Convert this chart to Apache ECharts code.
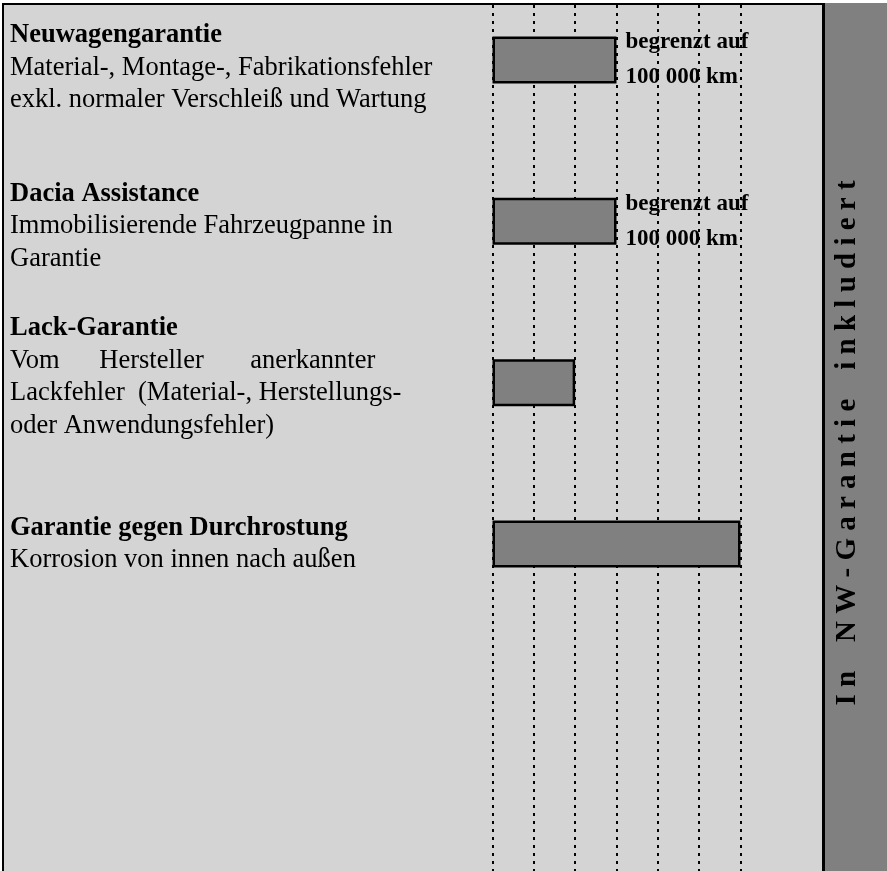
<!DOCTYPE html>
<html>
<head>
<meta charset="utf-8">
<script src="https://cdn.jsdelivr.net/npm/echarts@6/dist/echarts.min.js"></script>
<style>
html,body{margin:0;padding:0;background:#ffffff;}
#chart{width:887px;height:871px;}
</style>
</head>
<body>
<div id="chart"></div>
<script>
// ---- data ----
const categories = ["Neuwagengarantie", "Dacia Assistance", "Lack-Garantie", "Garantie gegen Durchrostung"];
const descriptions = [
  ["Material-, Montage-, Fabrikationsfehler", "exkl. normaler Verschleiß und Wartung"],
  ["Immobilisierende Fahrzeugpanne in", "Garantie"],
  ["Vom      Hersteller       anerkannter", "Lackfehler  (Material-, Herstellungs-", "oder Anwendungsfehler)"],
  ["Korrosion von innen nach außen"]
];
const years = [3, 3, 2, 6];
const limits = ["begrenzt auf\n100 000 km", "begrenzt auf\n100 000 km", "", ""];
const yearTicks = [0, 1, 2, 3, 4, 5, 6];
const sideLabel = "In NW-Garantie inkludiert";

// ---- layout (not data) ----
const SERIF = "'Liberation Serif', 'Times New Roman', serif";
const blockTitleCenters = [35.5, 194, 328.5, 528];
const lineGap = 32.5;

const graphics = [];
// white margins + black frame
graphics.push({type:'rect', silent:true, shape:{x:0,y:0,width:887,height:3}, style:{fill:'#ffffff'}});
graphics.push({type:'rect', silent:true, shape:{x:0,y:0,width:2,height:871}, style:{fill:'#ffffff'}});
graphics.push({type:'rect', silent:true, shape:{x:2,y:3,width:822,height:2}, style:{fill:'#000000'}});
graphics.push({type:'rect', silent:true, shape:{x:2,y:3,width:2,height:868}, style:{fill:'#000000'}});
// right band
graphics.push({type:'rect', silent:true, shape:{x:823,y:3,width:64,height:868}, style:{fill:'#808080'}});
graphics.push({type:'rect', silent:true, shape:{x:822,y:3,width:3,height:868}, style:{fill:'#000000'}});

// left text blocks
categories.forEach(function (cat, i) {
  const lines = [{text: cat, bold: true}].concat(descriptions[i].map(function (d) { return {text: d, bold: false}; }));
  lines.forEach(function (ln, k) {
    graphics.push({
      type: 'text', silent: true,
      x: 10, y: blockTitleCenters[i] + k * lineGap,
      style: {
        text: ln.text,
        x: 0, y: 0,
        fill: '#000000',
        font: (ln.bold ? 'bold ' : '') + '26.5px ' + SERIF,
        align: 'left', verticalAlign: 'middle',
        textAlign: 'left', textVerticalAlign: 'middle'
      }
    });
  });
});

// vertical side text (letter-spaced)
const spacedSide = sideLabel.split(' ').map(function (w) { return w.split('').join(' '); }).join('    ');
graphics.push({
  type: 'text', silent: true,
  x: 848, y: 443, rotation: Math.PI / 2,
  style: {
    text: spacedSide, x: 0, y: 0,
    fill: '#000000',
    font: 'bold 29px ' + SERIF,
    align: 'center', verticalAlign: 'middle',
    textAlign: 'center', textVerticalAlign: 'middle'
  }
});

const chart = echarts.init(document.getElementById('chart'), null, {renderer: 'canvas'});
const gridLeft = 492.5, gridRight = 887 - 740.5;
chart.setOption({
  animation: false,
  backgroundColor: '#d4d4d4',
  grid: [
    {left: gridLeft, right: gridRight, top: 5, bottom: 0},
    {left: gridLeft, right: gridRight, top: 60, height: 484}
  ],
  xAxis: [
    {
      gridIndex: 0, type: 'value', min: yearTicks[0], max: yearTicks[yearTicks.length - 1], interval: 1,
      axisLine: {show: false}, axisTick: {show: false}, axisLabel: {show: false},
      splitLine: {show: true, showMinLine: true, showMaxLine: true, lineStyle: {color: '#000000', width: 2, type: [3, 5]}}
    },
    {
      gridIndex: 1, type: 'value', min: yearTicks[0], max: yearTicks[yearTicks.length - 1], interval: 1,
      axisLine: {show: false}, axisTick: {show: false}, axisLabel: {show: false}, splitLine: {show: false}
    }
  ],
  yAxis: [
    {gridIndex: 0, type: 'value', min: 0, max: 1, show: false, splitLine: {show: false}},
    {gridIndex: 1, type: 'category', data: categories, inverse: true, boundaryGap: false,
     axisLine: {show: false}, axisTick: {show: false}, axisLabel: {show: false}, splitLine: {show: false}}
  ],
  graphic: graphics,
  series: [{
    type: 'bar',
    xAxisIndex: 1, yAxisIndex: 1,
    data: years,
    barWidth: 47,
    clip: false,
    silent: true,
    itemStyle: {color: '#808080', borderColor: '#000000', borderWidth: 2.5},
    label: {
      show: true, position: 'right', distance: 9,
      formatter: function (p) { return limits[p.dataIndex]; },
      fontFamily: SERIF, fontWeight: 'bold', fontSize: 23, lineHeight: 35, color: '#000000'
    }
  }]
});
</script>
</body>
</html>
